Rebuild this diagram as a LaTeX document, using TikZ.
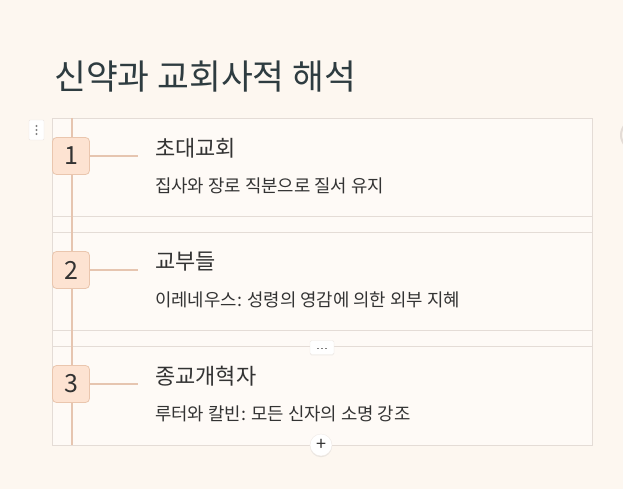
\documentclass[tikz,border=0pt]{standalone}
\usepackage{fontspec}
\setmainfont{Noto Sans CJK KR}
\usetikzlibrary{shadows}
\definecolor{bg}{HTML}{FDF7F0}
\definecolor{frame}{HTML}{E4DCD6}
\definecolor{peach}{HTML}{E6C5B0}
\definecolor{boxfill}{HTML}{FDE3D2}
\definecolor{boxline}{HTML}{EAC6AE}
\definecolor{titlec}{HTML}{2E3C40}
\definecolor{textc}{HTML}{333333}
\tikzset{
  numbox/.style={draw=boxline, fill=boxfill, rounded corners=4pt, minimum width=37pt, minimum height=37pt, inner sep=0pt, font=\fontsize{25}{27}\selectfont, text=textc, line width=0.8pt},
  heading/.style={anchor=west, inner sep=0pt, font=\fontsize{22}{24}\selectfont, text=textc},
  subtext/.style={anchor=west, inner sep=0pt, font=\fontsize{17.8}{20}\selectfont, text=textc},
  frameline/.style={draw=frame, line width=0.9pt},
  connector/.style={draw=peach, line width=2pt},
}
\begin{document}
\begin{tikzpicture}[x=1pt,y=-1pt]
\useasboundingbox[fill=bg] (0,0) rectangle (623,489);
% title
\node[anchor=base west, inner sep=0pt, font=\fontsize{34.6}{38}\selectfont, text=titlec] (title) at (54,90) {신약과 교회사적 해석};
% frame
\draw[frameline, fill=bg!60!white] (52,118) rectangle (592,445);
\draw[frameline] (52,216) -- (592,216);
\draw[frameline] (52,232) -- (592,232);
\draw[frameline] (52,330) -- (592,330);
\draw[frameline] (52,346) -- (592,346);
% timeline
\coordinate (ltop) at (72,118);
\coordinate (lbot) at (72,445);
\draw[connector] (ltop) -- (lbot);
% rows
\foreach \n/\y/\h/\s in {1/156/초대교회/집사와 장로 직분으로 질서 유지,
                         2/270/교부들/이레네우스: 성령의 영감에 의한 외부 지혜,
                         3/384/종교개혁자/루터와 칼빈: 모든 신자의 소명 강조}{
  \coordinate (c\n) at (138,\y);
  \draw[connector] (71,\y) -- (c\n);
  \node[numbox] (b\n) at (71,\y) {\n};
  \node[heading] (h\n) at (155,\y-8) {\h};
  \node[subtext] (s\n) at (155,\y+30) {\s};
}
% handle
\node[draw=frame!70, fill=white, minimum width=15pt, minimum height=20pt, inner sep=0pt, rounded corners=1pt] (handle) at (36.5,130) {};
\foreach \dy in {-4,0,4}{\fill[gray] (36.5,130+\dy) circle (1.1pt);}
% dots box
\node[draw=frame!60, fill=white, minimum width=24pt, minimum height=14pt, inner sep=0pt, rounded corners=1.5pt, drop shadow={opacity=0.12, shadow xshift=0pt, shadow yshift=-0.8pt}] (more) at (322,347.5) {};
\foreach \dx in {-4,0,4}{\fill[gray] (320.8+\dx,347.8) rectangle ++(2.4,1.6);}
% plus circle
\node[circle, draw=frame!60, fill=white, minimum size=22pt, inner sep=0pt, drop shadow={opacity=0.15, shadow xshift=0pt, shadow yshift=-1.2pt}, font=\fontsize{18}{18}\selectfont, text=textc] (plus) at (321,445) {+};
% partial circle at right edge
\node[circle, draw=frame, line width=2pt, fill=bg, minimum size=30pt, inner sep=0pt] (side) at (636,135) {};
\end{tikzpicture}
\end{document}
